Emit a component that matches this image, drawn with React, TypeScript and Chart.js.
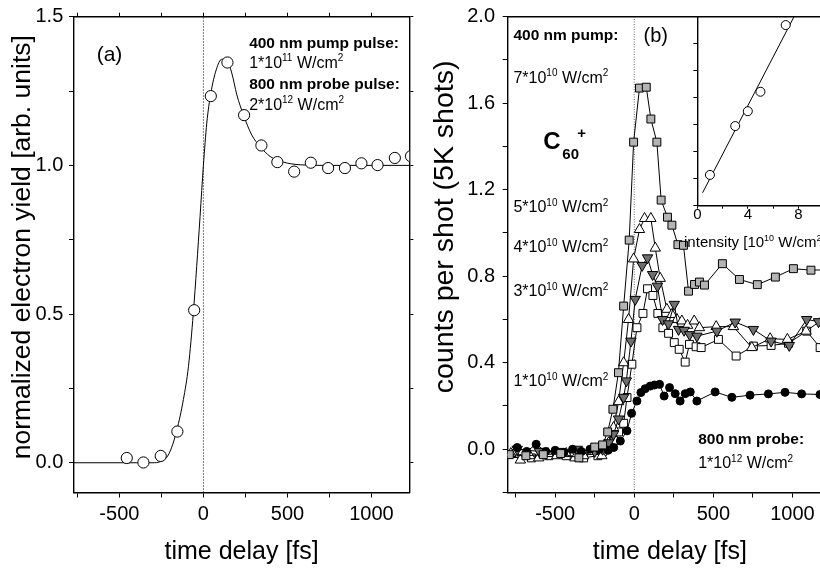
import { useEffect, useRef } from 'react';
import { Chart, registerables } from 'chart.js';

Chart.register(...registerables);

const FONT = '"Liberation Sans", Arial, Helvetica, sans-serif';
Chart.defaults.font.family = FONT;
Chart.defaults.color = '#000';

// ---------- Panel (a) ----------
const aTimes = [-456, -357, -254, -155, -55, 44, 143, 242, 345, 440, 540, 639, 742, 842, 940, 1036, 1139, 1235];
const aYield = [0.016, 0.001, 0.023, 0.105, 0.513, 1.233, 1.346, 1.169, 1.067, 1.011, 0.979, 1.009, 0.991, 0.991, 1.007, 1.001, 1.025, 1.031];
const aFitTimes = [-770, -400, -300, -260, -220, -190, -158, -119, -89, -60, -40, -20, 0, 20, 44, 76, 109, 139, 169, 199, 238, 288, 338, 397, 476, 576, 735, 1225];
const aFitYield = [0, 0, 0, 0.003, 0.017, 0.05, 0.11, 0.213, 0.324, 0.504, 0.66, 0.828, 1.0, 1.142, 1.242, 1.321, 1.357, 1.354, 1.31, 1.237, 1.17, 1.102, 1.063, 1.03, 1.011, 1.002, 1.0, 1.0];
const aXTicks = [-750, -500, -250, 0, 250, 500, 750, 1000];
const aYTicks = [0, 0.25, 0.5, 0.75, 1.0, 1.25, 1.5];

// ---------- Panel (b) ----------
const g7X = [-790, -685, -575, -465, -350, -250, -200, -168, -135, -100, -67, -32, -4, 33, 76, 105, 143, 170, 210, 238, 276, 311, 343, 381, 412, 444, 557, 665, 778, 892, 1006, 1117, 1230];
const g7Y = [-0.025, -0.03, -0.025, -0.02, -0.04, 0.01, 0.02, 0.08, 0.185, 0.354, 0.662, 0.967, 1.42, 1.67, 1.674, 1.527, 1.42, 1.152, 1.073, 1.036, 0.946, 0.943, 0.731, 0.762, 0.773, 0.759, 0.858, 0.785, 0.761, 0.796, 0.835, 0.828, 0.83];
const w5X = [-780, -720, -660, -604, -545, -490, -430, -375, -320, -262, -205, -162, -131, -99, -67, -36, -4, 33, 65, 105, 133, 164, 206, 238, 270, 301, 337, 379, 412, 518, 627, 743, 859, 968, 1086, 1190];
const w5Y = [-0.02, -0.05, -0.03, -0.04, -0.02, -0.03, -0.02, -0.04, -0.03, -0.01, -0.03, 0.03, 0.1, 0.22, 0.4, 0.6, 0.88, 1.016, 1.067, 1.067, 0.93, 0.79, 0.647, 0.623, 0.6, 0.593, 0.573, 0.593, 0.562, 0.567, 0.567, 0.47, 0.511, 0.508, 0.546, 0.6];
const d4X = [-740, -600, -470, -360, -250, -200, -162, -131, -99, -67, -50, -21, 6, 50, 84, 116, 147, 179, 216, 253, 280, 315, 350, 396, 522, 638, 753, 865, 980, 1090, 1165];
const d4Y = [0.0, -0.01, -0.01, 0.0, -0.01, 0.0, 0.03, 0.07, 0.14, 0.24, 0.316, 0.5, 0.693, 0.85, 0.885, 0.808, 0.754, 0.6, 0.58, 0.67, 0.554, 0.55, 0.53, 0.523, 0.546, 0.588, 0.554, 0.5, 0.48, 0.6, 0.59];
const s3X = [-760, -650, -540, -430, -320, -230, -200, -162, -131, -99, -67, -46, -15, 17, 55, 84, 118, 149, 181, 217, 253, 284, 322, 349, 391, 423, 532, 644, 753, 865, 975, 1090, 1175];
const s3Y = [-0.02, -0.04, -0.03, -0.03, -0.04, -0.03, -0.01, 0.02, 0.04, 0.08, 0.12, 0.239, 0.393, 0.562, 0.628, 0.742, 0.711, 0.628, 0.562, 0.536, 0.493, 0.462, 0.403, 0.485, 0.474, 0.47, 0.508, 0.431, 0.477, 0.48, 0.49, 0.546, 0.47];
const b1X = [-740, -680, -620, -560, -500, -445, -390, -335, -280, -220, -165, -130, -88, -46, -17, 17, 42, 69, 101, 128, 160, 189, 223, 259, 290, 322, 354, 396, 511, 617, 732, 848, 953, 1058, 1174];
const b1Y = [0.008, -0.01, 0.023, -0.01, -0.005, -0.015, 0.0, -0.01, 0.0, 0.0, -0.005, 0.008, 0.038, 0.085, 0.166, 0.223, 0.262, 0.28, 0.292, 0.297, 0.3, 0.246, 0.285, 0.257, 0.223, 0.257, 0.265, 0.223, 0.265, 0.24, 0.25, 0.256, 0.263, 0.256, 0.253];
const bXTicks = [-750, -500, -250, 0, 250, 500, 750, 1000, 1250];
const bYTicks = [-0.2, 0, 0.2, 0.4, 0.6, 0.8, 1.0, 1.2, 1.4, 1.6, 1.8, 2.0];

// ---------- Inset ----------
const insetIntensity = [1, 3, 4, 5, 7];
const insetSignal = [1.14, 2.95, 3.5, 4.22, 6.69];
const insetFitX = [0.42, 7.66];
const insetFitY = [0.48, 7.0];
const insetXTicks = [0, 2, 4, 6, 8, 10];
const insetYTicks = [0, 1, 2, 3, 4, 5, 6, 7];

type Seg = [string, string?];
type Note = { x: number; y: number; size: number; bold?: boolean; segs: Seg[] };

const notesA: Note[] = [
  { x: -635, y: 1.351, size: 21, segs: [['(a)']] },
  { x: 272, y: 1.395, size: 15.5, bold: true, segs: [['400 nm pump pulse:']] },
  { x: 272, y: 1.327, size: 16, segs: [['1*10'], ['11', 'sup'], [' W/cm'], ['2', 'sup']] },
  { x: 272, y: 1.257, size: 15.5, bold: true, segs: [['800 nm probe pulse:']] },
  { x: 272, y: 1.186, size: 16, segs: [['2*10'], ['12', 'sup'], [' W/cm'], ['2', 'sup']] },
];

const notesB: Note[] = [
  { x: -764, y: 1.894, size: 15.5, bold: true, segs: [['400 nm pump:']] },
  { x: 59, y: 1.885, size: 20, segs: [['(b)']] },
  { x: -764, y: 1.695, size: 16, segs: [['7*10'], ['10', 'sup'], [' W/cm'], ['2', 'sup']] },
  { x: -764, y: 1.095, size: 16, segs: [['5*10'], ['10', 'sup'], [' W/cm'], ['2', 'sup']] },
  { x: -764, y: 0.91, size: 16, segs: [['4*10'], ['10', 'sup'], [' W/cm'], ['2', 'sup']] },
  { x: -764, y: 0.707, size: 16, segs: [['3*10'], ['10', 'sup'], [' W/cm'], ['2', 'sup']] },
  { x: -764, y: 0.291, size: 16, segs: [['1*10'], ['10', 'sup'], [' W/cm'], ['2', 'sup']] },
  { x: 404, y: 0.023, size: 15.5, bold: true, segs: [['800 nm probe:']] },
  { x: 404, y: -0.088, size: 16, segs: [['1*10'], ['12', 'sup'], [' W/cm'], ['2', 'sup']] },
  { x: -574.5, y: 1.386, size: 24, bold: true, segs: [['C']] },
  { x: -454.5, y: 1.34, size: 15, bold: true, segs: [['60']] },
  { x: -360, y: 1.441, size: 15, bold: true, segs: [['+']] },
];

const notesInset: Note[] = [
  { x: -1.05, y: -1.53, size: 15, segs: [['intensity [10'], ['10', 'sup'], [' W/cm'], ['2', 'sup'], [']']] },
];

function drawNotes(chart: any, notes: Note[]) {
  const ctx = chart.ctx as CanvasRenderingContext2D;
  const xs = chart.scales.x;
  const ys = chart.scales.y;
  ctx.save();
  ctx.fillStyle = '#000';
  ctx.textAlign = 'left';
  ctx.textBaseline = 'alphabetic';
  for (const n of notes) {
    let cx = xs.getPixelForValue(n.x);
    const by = ys.getPixelForValue(n.y);
    for (const [t, k] of n.segs) {
      const small = k === 'sup' || k === 'sub';
      const sz = small ? Math.round(n.size * 0.62) : n.size;
      ctx.font = `${n.bold ? 'bold ' : ''}${sz}px ${FONT}`;
      const dy = k === 'sup' ? -n.size * 0.42 : k === 'sub' ? n.size * 0.28 : 0;
      ctx.fillText(t, cx, by + dy);
      cx += ctx.measureText(t).width;
    }
  }
  ctx.restore();
}

const pts = (xs: number[], ys: number[]) => xs.map((x, i) => ({ x, y: ys[i] }));
const fixedTicks = (vals: number[]) => (axis: any) => {
  axis.ticks = vals.map((v) => ({ value: v }));
};
const fitSize = (w: number | null, h: number | null) => (s: any) => {
  if (w !== null) s.width = w;
  if (h !== null) s.height = h;
  s.paddingTop = 0;
  s.paddingBottom = 0;
  s.paddingLeft = 0;
  s.paddingRight = 0;
};

const BORDER = { display: true, color: '#000', width: 1.4 };

function frameAxis(axis: 'x' | 'y', position: string, min: number, max: number, ticks: number[], tickLen: number) {
  return {
    type: 'linear',
    axis,
    position,
    min,
    max,
    afterBuildTicks: fixedTicks(ticks),
    afterFit: axis === 'x' ? fitSize(null, 0) : fitSize(0, null),
    ticks: { display: false },
    grid: { drawOnChartArea: false, drawTicks: tickLen > 0, tickLength: tickLen, color: '#000', tickColor: '#000' },
    border: BORDER,
  };
}

function configA(): any {
  return {
    type: 'line',
    data: {
      datasets: [
        {
          data: pts(aTimes, aYield), showLine: false, pointStyle: 'circle', pointRadius: 5.6,
          pointBackgroundColor: '#fff', pointBorderColor: '#000', pointBorderWidth: 1,
        },
        {
          data: pts(aFitTimes, aFitYield), borderColor: '#000', borderWidth: 1, pointRadius: 0,
          cubicInterpolationMode: 'monotone',
        },
        {
          data: [{ x: 0, y: -0.1 }, { x: 0, y: 1.5 }], borderColor: '#000', borderWidth: 1,
          borderDash: [1, 2], pointRadius: 0,
        },
      ],
    },
    options: {
      animation: false, responsive: false, devicePixelRatio: 1, events: [],
      layout: { padding: { left: 0, top: 16.7, right: 10.7, bottom: 0 } },
      plugins: { legend: { display: false }, tooltip: { enabled: false } },
      scales: {
        x: {
          type: 'linear', min: -770, max: 1225,
          afterBuildTicks: fixedTicks(aXTicks), afterFit: fitSize(null, 77.5),
          ticks: { autoSkip: false, maxRotation: 0, padding: 4.5, font: { size: 20 }, callback: (v: number) => (v % 500 === 0 ? String(v) : '') },
          grid: { drawOnChartArea: false, tickLength: 5, color: '#000', tickColor: '#000' },
          border: BORDER,
          title: { display: true, text: 'time delay [fs]', font: { size: 25 }, padding: { top: 0, bottom: 3.3 } },
        },
        y: {
          type: 'linear', min: -0.1, max: 1.5,
          afterBuildTicks: fixedTicks(aYTicks), afterFit: fitSize(74, null),
          ticks: { autoSkip: false, padding: 5.7, font: { size: 20 }, callback: (v: number) => (Math.abs(v * 2 - Math.round(v * 2)) < 1e-6 ? v.toFixed(1) : '') },
          grid: { drawOnChartArea: false, tickLength: 5, color: '#000', tickColor: '#000' },
          border: BORDER,
          title: { display: true, text: '  normalized electron yield [arb. units]', font: { size: 26.5 }, padding: { top: 7.1, bottom: 0 } },
        },
        x2: frameAxis('x', 'top', -770, 1225, aXTicks, 4),
        y2: frameAxis('y', 'right', -0.1, 1.5, aYTicks, 4),
      },
    },
    plugins: [{ id: 'notesA', afterDraw: (c: any) => drawNotes(c, notesA) }],
  };
}

function series(data: any[], style: string, radius: number, fill: string, rotation = 0) {
  return {
    data, borderColor: '#000', borderWidth: 1, pointStyle: style, pointRadius: radius,
    pointBackgroundColor: fill, pointBorderColor: '#000', pointBorderWidth: 1, pointRotation: rotation,
  };
}

function configB(): any {
  return {
    type: 'line',
    data: {
      datasets: [
        series(pts(g7X, g7Y), 'rect', 5.6, '#b4b4b4'),
        series(pts(b1X, b1Y), 'circle', 4, '#000'),
        series(pts(d4X, d4Y), 'triangle', 6, '#6e6e6e', 180),
        series(pts(w5X, w5Y), 'triangle', 6, '#fff'),
        series(pts(s3X, s3Y), 'rect', 5.6, '#fff'),
        {
          data: [{ x: 0, y: -0.2 }, { x: 0, y: 2.0 }], borderColor: '#666', borderWidth: 1,
          borderDash: [1, 1.5], pointRadius: 0,
        },
      ],
    },
    options: {
      animation: false, responsive: false, devicePixelRatio: 1, events: [],
      layout: { padding: { left: 0, top: 16.7, right: 18, bottom: 0 } },
      plugins: { legend: { display: false }, tooltip: { enabled: false } },
      scales: {
        x: {
          type: 'linear', min: -800, max: 1250,
          afterBuildTicks: fixedTicks(bXTicks), afterFit: fitSize(null, 77.5),
          ticks: { autoSkip: false, maxRotation: 0, padding: 4.5, font: { size: 20 }, callback: (v: number) => (v % 500 === 0 ? String(v) : '') },
          grid: { drawOnChartArea: false, tickLength: 5, color: '#000', tickColor: '#000' },
          border: BORDER,
          title: { display: true, text: 'time delay [fs]', font: { size: 25 }, padding: { top: 0, bottom: 3.3 } },
        },
        y: {
          type: 'linear', min: -0.2, max: 2.0,
          afterBuildTicks: fixedTicks(bYTicks), afterFit: fitSize(97.7, null),
          ticks: { autoSkip: false, padding: 7.7, font: { size: 20 }, callback: (v: number) => (v >= -1e-9 && Math.abs(v * 2.5 - Math.round(v * 2.5)) < 1e-6 ? v.toFixed(1) : '') },
          grid: { drawOnChartArea: false, tickLength: 5, color: '#000', tickColor: '#000' },
          border: BORDER,
          title: { display: true, text: '       counts per shot (5K shots)', font: { size: 28.5 }, padding: { top: 17.9, bottom: 0 } },
        },
        x2: frameAxis('x', 'top', -800, 1250, bXTicks, 0),
      },
    },
    plugins: [{ id: 'notesB', afterDraw: (c: any) => drawNotes(c, notesB) }],
  };
}

function configInset(): any {
  return {
    type: 'line',
    data: {
      datasets: [
        {
          data: pts(insetIntensity, insetSignal), showLine: false, pointStyle: 'circle', pointRadius: 4.5,
          pointBackgroundColor: '#fff', pointBorderColor: '#000', pointBorderWidth: 1,
        },
        { data: pts(insetFitX, insetFitY), borderColor: '#000', borderWidth: 1, pointRadius: 0 },
      ],
    },
    options: {
      animation: false, responsive: false, devicePixelRatio: 1, events: [],
      layout: { padding: { left: 0, top: 16.7, right: 16.4, bottom: 0 } },
      plugins: { legend: { display: false }, tooltip: { enabled: false } },
      scales: {
        x: {
          type: 'linear', min: 0, max: 10,
          afterBuildTicks: fixedTicks(insetXTicks), afterFit: fitSize(null, 59.3),
          ticks: { autoSkip: false, maxRotation: 0, padding: -2.7, font: { size: 15 }, callback: (v: number) => (v % 4 === 0 && v <= 8 ? String(v) : '') },
          grid: { drawOnChartArea: false, tickLength: 3, color: '#000', tickColor: '#000' },
          border: BORDER,
        },
        y: {
          type: 'linear', min: 0, max: 7,
          afterBuildTicks: fixedTicks(insetYTicks), afterFit: fitSize(37.3, null),
          ticks: { display: false },
          grid: { drawOnChartArea: false, tickLength: 4, color: '#000', tickColor: '#000' },
          border: BORDER,
        },
      },
    },
    plugins: [{ id: 'notesInset', afterDraw: (c: any) => drawNotes(c, notesInset) }],
  };
}

export default function App() {
  const refA = useRef<HTMLCanvasElement>(null);
  const refB = useRef<HTMLCanvasElement>(null);
  const refI = useRef<HTMLCanvasElement>(null);

  useEffect(() => {
    const charts = [
      new Chart(refA.current as HTMLCanvasElement, configA()),
      new Chart(refB.current as HTMLCanvasElement, configB()),
      new Chart(refI.current as HTMLCanvasElement, configInset()),
    ];
    return () => charts.forEach((c) => c.destroy());
  }, []);

  return (
    <div style={{ position: 'fixed', left: 0, top: 0, width: 820, height: 570, overflow: 'hidden', background: '#fff' }}>
      <canvas ref={refA} width={420} height={570} style={{ position: 'absolute', left: 0, top: 0 }} />
      <canvas ref={refB} width={440} height={570} style={{ position: 'absolute', left: 410, top: 0 }} />
      <canvas ref={refI} width={180} height={265} style={{ position: 'absolute', left: 660, top: 0 }} />
    </div>
  );
}
